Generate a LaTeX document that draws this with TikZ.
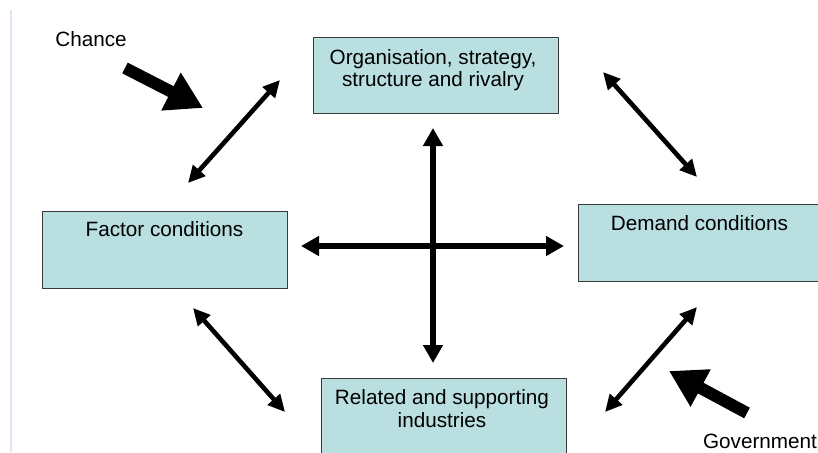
\documentclass[tikz,border=0pt]{standalone}
\usepackage{fontspec}
\setmainfont{Liberation Sans}
\usetikzlibrary{arrows.meta}
\definecolor{boxfill}{HTML}{B9DFE1}
\definecolor{boxline}{HTML}{3A3A3A}
\definecolor{edgeline}{HTML}{DCE8F8}
\tikzset{
  box/.style={draw=boxline, line width=1.3pt, fill=boxfill, rectangle, inner sep=0pt, anchor=north west},
  lbl/.style={inner sep=0pt, anchor=base, align=center, font=\fontsize{20.7pt}{22.5pt}\selectfont},
  dbl/.style={line width=4.6pt, {Triangle[length=17pt,width=16pt]}-{Triangle[length=17pt,width=16pt]}},
  cross/.style={line width=6pt, {Triangle[length=18pt,width=19pt]}-{Triangle[length=18pt,width=19pt]}},
  big/.style={line width=12pt, -{Triangle[length=36pt,width=40pt]}}
}
\begin{document}
\begin{tikzpicture}[x=1pt,y=-1pt]
\useasboundingbox (0,0) rectangle (818,452);
\clip (0,0) rectangle (818,452);
\fill[white] (0,0) rectangle (818,452);
\draw[edgeline, line width=1.2pt] (11,10) -- (11,452);

% boxes
\node[box, minimum width=245pt, minimum height=76pt] (org) at (313,37) {};
\node[box, minimum width=245pt, minimum height=77pt] (fac) at (42,211) {};
\node[box, minimum width=245pt, minimum height=77pt] (dem) at (578,204) {};
\node[box, minimum width=245pt, minimum height=80pt] (rel) at (321,378) {};

% box texts (base = baseline of last line)
\node[lbl] (orgt) at (433,86.5) {Organisation, strategy,\\structure and rivalry};
\node[lbl] (fact) at (164.5,236) {Factor conditions};
\node[lbl] (demt) at (699.5,230) {Demand conditions};
\node[lbl] (relt) at (442,427) {Related and supporting\\industries};

% free labels
\node[lbl] (chance) at (91,47) {Chance};
\node[lbl] (gov) at (760,448) {Government};

% connector ends
\coordinate (tl1) at (188,183); \coordinate (tl2) at (280,80);
\coordinate (tr1) at (603,72);  \coordinate (tr2) at (697,177);
\coordinate (bl1) at (193,308); \coordinate (bl2) at (285,412);
\coordinate (br1) at (605,412); \coordinate (br2) at (697,307);
\coordinate (vt) at (433,128);  \coordinate (vb) at (433,363);
\coordinate (hl) at (301,246);  \coordinate (hr) at (564,246);
\coordinate (ch1) at (125,68);  \coordinate (ch2) at (203,108);
\coordinate (gv1) at (747,413); \coordinate (gv2) at (669,371);

\draw[dbl] (tl1) -- (tl2);
\draw[dbl] (tr1) -- (tr2);
\draw[dbl] (bl1) -- (bl2);
\draw[dbl] (br1) -- (br2);
\draw[cross] (vt) -- (vb);
\draw[cross] (hl) -- (hr);
\draw[big] (ch1) -- (ch2);
\draw[big] (gv1) -- (gv2);
\end{tikzpicture}
\end{document}
